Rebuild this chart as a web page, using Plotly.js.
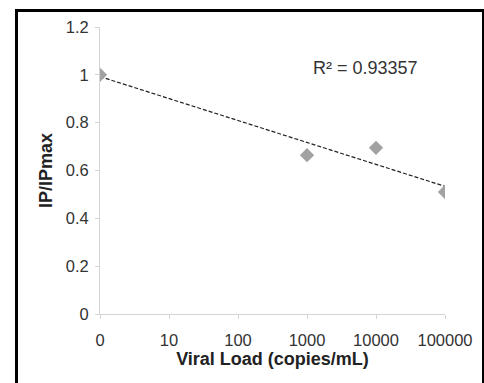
<!DOCTYPE html>
<html>
<head>
<meta charset="utf-8">
<script src="https://cdn.plot.ly/plotly-3.0.1.min.js"></script>
<style>
  html, body { margin: 0; padding: 0; background: #fff; }
  #wrap { position: relative; width: 484px; height: 383px; }
  #chart { position: absolute; left: 0; top: 0; width: 484px; height: 383px; }
  #frame { position: absolute; left: 15px; top: 9px; width: 464px; height: 380px;
           border-left: 3px solid #000; border-top: 3px solid #000; border-right: 3px solid #000;
           pointer-events: none; }
</style>
</head>
<body>
<div id="wrap">
  <div id="chart"></div>
  <div id="frame"></div>
</div>
<script>
// Category tick labels on the x axis (viral load, copies/mL)
const categories = ['0', '10', '100', '1000', '10000', '100000'];
// Measured points
const pointX = ['0', '1000', '10000', '100000'];
const pointY = [1.0, 0.664, 0.695, 0.51];
// Trendline label
const r2Label = 'R² = 0.93357';

// Linear trendline fitted on category positions (as Excel does)
const idx = pointX.map(c => categories.indexOf(c));
const n = idx.length;
const mx = idx.reduce((a, b) => a + b, 0) / n;
const my = pointY.reduce((a, b) => a + b, 0) / n;
let sxy = 0, sxx = 0;
for (let i = 0; i < n; i++) { sxy += (idx[i] - mx) * (pointY[i] - my); sxx += (idx[i] - mx) ** 2; }
const slope = sxy / sxx;
const intercept = my - slope * mx;
const trendX = [categories[0], categories[categories.length - 1]];
const trendY = [intercept, intercept + slope * (categories.length - 1)];

const fam = 'Liberation Sans, Arial, sans-serif';
const tickFont = { family: fam, size: 16.5, color: '#333' };
const titleFont = { family: fam, size: 18, color: '#222' };
const annFont = { family: fam, size: 18, color: '#333' };

const data = [
  {
    x: trendX, y: trendY, type: 'scatter', mode: 'lines',
    line: { color: '#222', width: 1.2, dash: '4px,2px' },
    hoverinfo: 'skip', showlegend: false
  },
  {
    x: pointX, y: pointY, type: 'scatter', mode: 'markers',
    marker: { symbol: 'diamond', size: 11, color: '#a2a2a2' },
    showlegend: false
  }
];

const layout = {
  width: 484, height: 383,
  margin: { l: 100, r: 39, t: 27, b: 69 },
  paper_bgcolor: '#fff', plot_bgcolor: '#fff',
  font: tickFont,
  showlegend: false,
  xaxis: {
    type: 'category', categoryorder: 'array', categoryarray: categories,
    range: [0, categories.length - 1],
    showgrid: false, zeroline: false,
    showline: true, linecolor: '#d4d4d4', linewidth: 1,
    ticks: 'outside', ticklen: 4, tickcolor: '#d4d4d4',
    ticklabelstandoff: 7,
    tickfont: tickFont,
    title: { text: '<b>Viral Load (copies/mL)</b>', font: titleFont, standoff: 3 }
  },
  yaxis: {
    range: [0, 1.2], dtick: 0.2, tick0: 0,
    showgrid: false, zeroline: false,
    showline: true, linecolor: '#d4d4d4', linewidth: 1,
    ticks: 'outside', ticklen: 4, tickcolor: '#d4d4d4',
    ticklabelstandoff: 3,
    tickfont: tickFont,
    title: { text: '<b>IP/IPmax</b>', font: titleFont, standoff: 8 }
  },
  annotations: [
    {
      text: r2Label, xref: 'x', yref: 'y', x: 3.06, y: 1.03,
      xanchor: 'left', yanchor: 'middle', showarrow: false, font: annFont
    }
  ]
};

Plotly.newPlot('chart', data, layout, { displayModeBar: false, staticPlot: true });
</script>
</body>
</html>
